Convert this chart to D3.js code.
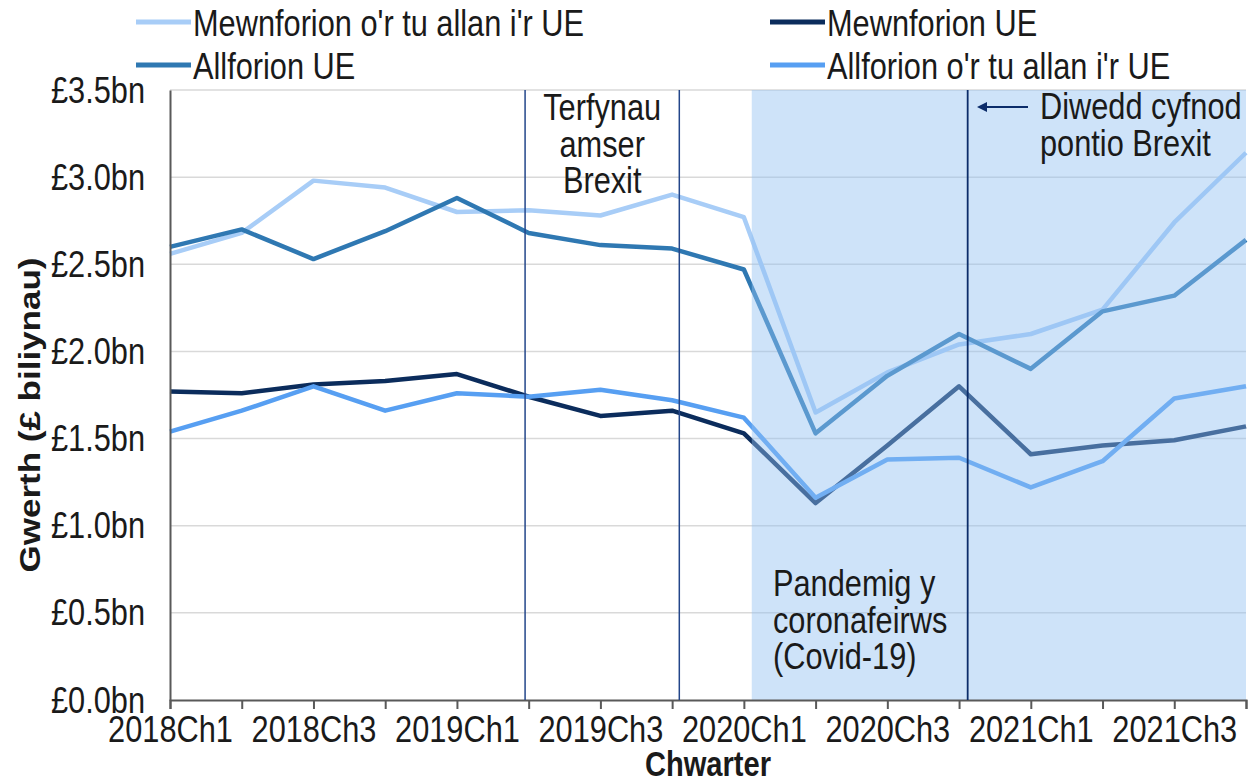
<!DOCTYPE html>
<html>
<head>
<meta charset="utf-8">
<script src="https://cdn.jsdelivr.net/npm/d3@7"></script>
<style>
  html, body { margin: 0; padding: 0; background: #fff; }
  svg text { font-family: "Liberation Sans", Arial, sans-serif; fill: #1a1a1a; }
</style>
</head>
<body>
<svg id="chart" width="1253" height="782"></svg>
<script>
const quarters = ["2018Ch1","2018Ch2","2018Ch3","2018Ch4","2019Ch1","2019Ch2","2019Ch3","2019Ch4",
                  "2020Ch1","2020Ch2","2020Ch3","2020Ch4","2021Ch1","2021Ch2","2021Ch3","2021Ch4"];
const mewnforionTuAllan = [2.56,2.68,2.98,2.94,2.80,2.81,2.78,2.90,2.77,1.65,1.88,2.04,2.10,2.24,2.74,3.14];
const allforionUE       = [2.60,2.70,2.53,2.69,2.88,2.68,2.61,2.59,2.47,1.53,1.86,2.10,1.90,2.23,2.32,2.64];
const mewnforionUE      = [1.77,1.76,1.81,1.83,1.87,1.74,1.63,1.66,1.53,1.13,1.46,1.80,1.41,1.46,1.49,1.57];
const allforionTuAllan  = [1.54,1.66,1.80,1.66,1.76,1.74,1.78,1.72,1.62,1.16,1.38,1.39,1.22,1.37,1.73,1.80];
const seriesNames = ["Mewnforion o'r tu allan i'r UE","Allforion UE","Mewnforion UE","Allforion o'r tu allan i'r UE"];
const yTicks = [0,0.5,1.0,1.5,2.0,2.5,3.0,3.5];
const brexitDeadlines = [4.95, 7.10];   // quarter index positions
const transitionEnd = 11.12;
const pandemicStart = 8.11;

const colors = ["#a8cdf7","#2f78b2","#0b2c5c","#579ff2"];
const series = [mewnforionTuAllan, allforionUE, mewnforionUE, allforionTuAllan];

const svg = d3.select("#chart");
const pL = 170, pR = 1246, pT = 90, pB = 700;
const x = d3.scaleLinear().domain([0, quarters.length - 1]).range([pL, pR]);
const y = d3.scaleLinear().domain([0, 3.5]).range([pB, pT]);
const FS = 37.5;
const SX = 0.82;   // narrow text look

function label(px, py, txt, opts = {}) {
  const g = svg.append("g").attr("transform", `translate(${px},${py}) scale(${SX},1)`);
  const t = g.append("text").attr("font-size", opts.size || FS)
    .attr("text-anchor", opts.anchor || "start").text(txt);
  if (opts.bold) t.attr("font-weight", "bold");
  if (opts.dy) t.attr("dy", opts.dy);
  return t;
}

// gridlines
svg.append("g").selectAll("line").data(yTicks.filter(d => d > 0)).join("line")
  .attr("x1", pL).attr("x2", pR)
  .attr("y1", d => y(d)).attr("y2", d => y(d))
  .attr("stroke", "#d9d9d9").attr("stroke-width", 1.5);

// lines
const line = d3.line().x((d, i) => x(i)).y(d => y(d));
series.forEach((s, k) => {
  svg.append("path").datum(s).attr("d", line)
    .attr("fill", "none").attr("stroke", colors[k]).attr("stroke-width", 4.5)
    .attr("stroke-linejoin", "round");
});

// pandemic shading (on top, semi-transparent)
svg.append("rect")
  .attr("x", x(pandemicStart)).attr("y", y(3.5))
  .attr("width", x(quarters.length - 1) - x(pandemicStart))
  .attr("height", y(0) - y(3.5))
  .attr("fill", "#93c0f2").attr("opacity", 0.45);

// axes
const xAxis = d3.axisBottom(x).tickValues(d3.range(quarters.length))
  .tickSize(9).tickFormat(i => i % 2 === 0 ? quarters[i] : "");
const gx = svg.append("g").attr("transform", `translate(0,${pB})`).call(xAxis);
gx.select(".domain").attr("stroke", "#595959").attr("stroke-width", 2);
gx.selectAll(".tick line").attr("stroke", "#595959").attr("stroke-width", 2);
gx.selectAll(".tick text").attr("font-size", FS).attr("dy", "0.92em").attr("y", 8)
  .attr("transform", `scale(${SX},1)`)
  .style("font-family", "'Liberation Sans',Arial,sans-serif").attr("fill", "#1a1a1a");

const yAxis = d3.axisLeft(y).tickValues(yTicks).tickSize(0).tickPadding(25 / SX)
  .tickFormat(d => "£" + d.toFixed(1) + "bn");
const gy = svg.append("g").attr("transform", `translate(${pL},0)`).call(yAxis);
gy.select(".domain").attr("stroke", "#595959").attr("stroke-width", 2);
gy.selectAll(".tick text").attr("font-size", FS).attr("transform", `scale(${SX},1)`)
  .style("font-family", "'Liberation Sans',Arial,sans-serif").attr("fill", "#1a1a1a");

// vertical reference lines
svg.append("g").selectAll("line").data(brexitDeadlines).join("line")
  .attr("x1", d => x(d)).attr("x2", d => x(d)).attr("y1", y(3.5)).attr("y2", y(0))
  .attr("stroke", "#23468a").attr("stroke-width", 1.5);
svg.append("line")
  .attr("x1", x(transitionEnd)).attr("x2", x(transitionEnd)).attr("y1", y(3.5)).attr("y2", y(0))
  .attr("stroke", "#0b2c6a").attr("stroke-width", 1.8);

// axis titles
label((pL + pR) / 2, 776, "Chwarter", { anchor: "middle", bold: true, size: 35.5 });
svg.append("text").attr("transform", `translate(40,415) rotate(-90) scale(1,${SX})`)
  .attr("text-anchor", "middle").attr("font-size", 35).attr("font-weight", "bold")
  .text("Gwerth (£ biliynau)");

// annotations
const midB = (x(brexitDeadlines[0]) + x(brexitDeadlines[1])) / 2;
["Terfynau", "amser", "Brexit"].forEach((t, i) => {
  label(midB, 120 + i * 36.5, t, { anchor: "middle" });
});
["Diwedd cyfnod", "pontio Brexit"].forEach((t, i) => {
  label(1040, 119 + i * 36.5, t);
});
svg.append("defs").append("marker").attr("id", "arr").attr("viewBox", "0 0 10 10")
  .attr("refX", 1).attr("refY", 5).attr("markerWidth", 5).attr("markerHeight", 5)
  .attr("orient", "auto-start-reverse")
  .append("path").attr("d", "M0,0 L10,5 L0,10 z").attr("fill", "#0b2c6a");
svg.append("line").attr("x1", 1028).attr("x2", 986).attr("y1", 107).attr("y2", 107)
  .attr("stroke", "#0b2c6a").attr("stroke-width", 2).attr("marker-end", "url(#arr)");
["Pandemig y", "coronafeirws", "(Covid-19)"].forEach((t, i) => {
  label(773, 596 + i * 36.5, t);
});

// legend
const legendPos = [[136, 22], [136, 65], [770, 22], [770, 65]];
seriesNames.forEach((n, k) => {
  const [lx, ly] = legendPos[k];
  svg.append("line").attr("x1", lx).attr("x2", lx + 55).attr("y1", ly).attr("y2", ly)
    .attr("stroke", colors[k]).attr("stroke-width", 5);
  label(lx + 57, ly, n, { dy: "0.36em" });
});
</script>
</body>
</html>
